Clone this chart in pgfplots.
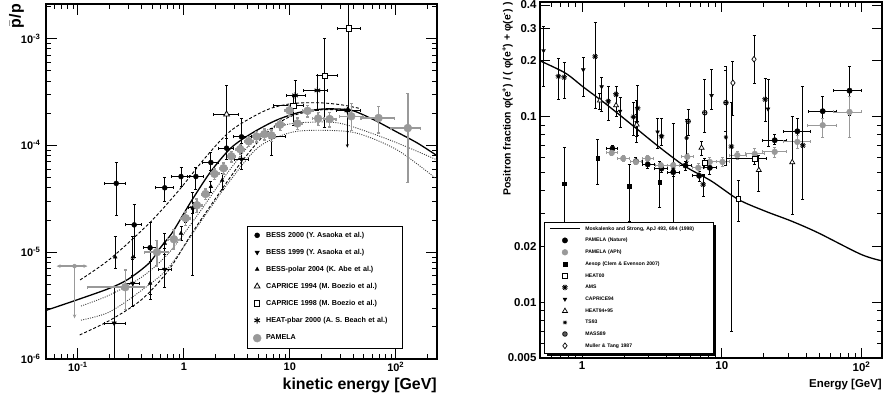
\documentclass[border=0pt]{standalone}
\usepackage{pgfplots}
\pgfplotsset{compat=1.18}
\usepackage{fontspec}
\setmainfont{Liberation Sans}
\usetikzlibrary{arrows.meta}

\definecolor{pgray}{gray}{0.6}

\pgfplotsset{
  eb/.style={/pgfplots/error bars/x dir=both, /pgfplots/error bars/x explicit,
    /pgfplots/error bars/y dir=both, /pgfplots/error bars/y explicit,
    /pgfplots/error bars/error bar style={line width=#1, solid},
    /pgfplots/error bars/error mark options={rotate=90, mark size=1.5bp, line width=#1, solid}},
  eby/.style={/pgfplots/error bars/y dir=both, /pgfplots/error bars/y explicit,
    /pgfplots/error bars/error bar style={line width=#1, solid},
    /pgfplots/error bars/error mark options={rotate=90, mark size=1.5bp, line width=#1, solid}},
  table/ebc/.style={x=E, y=v, x error minus=xm, x error plus=xp, y error minus=ym, y error plus=yp},
  table/eyc/.style={x=E, y=v, y error minus=ym, y error plus=yp},
}

\begin{document}
\begin{tikzpicture}
\path[use as bounding box] (0,0) rectangle (889bp,401bp);

% ---------------- left: antiproton/proton ratio
\begin{axis}[
  scale only axis, xmode=log, ymode=log,
  axis line style={line width=1.1bp},
  tick style={black, line width=0.8bp},
  major tick length=11bp, minor tick length=5.5bp,
  at={(46bp,42bp)}, anchor=south west, width=391bp, height=355bp,
  xmin=0.05, xmax=245, ymin=1e-6, ymax=2.1e-3,
  xtick={0.1,1,10,100}, xticklabels={10\textsuperscript{-1},1,10,10\textsuperscript{2}},
  minor xtick={0.06,0.07,0.08,0.09,0.2,0.3,0.4,0.5,0.6,0.7,0.8,0.9,2,3,4,5,6,7,8,9,20,30,40,50,60,70,80,90,200},
  ytick={1e-6,1e-5,1e-4,1e-3},
  yticklabels={10\textsuperscript{-6},10\textsuperscript{-5},10\textsuperscript{-4},10\textsuperscript{-3}},
  minor ytick={2e-6,3e-6,4e-6,5e-6,6e-6,7e-6,8e-6,9e-6,2e-5,3e-5,4e-5,5e-5,6e-5,7e-5,8e-5,9e-5,2e-4,3e-4,4e-4,5e-4,6e-4,7e-4,8e-4,9e-4,2e-3},
  ticklabel style={font=\bfseries\fontsize{11}{13}\selectfont},
  yticklabel style={xshift=-2bp},
  xlabel={kinetic energy [GeV]},
  xlabel style={font=\bfseries\fontsize{16}{18}\selectfont, at={(axis description cs:1,0)}, anchor=north east, inner sep=0pt, yshift=-19bp},
  ylabel={$\bar{\mbox{p}}$/p},
  ylabel style={font=\bfseries\fontsize{16}{18}\selectfont, at={(axis description cs:-0.056,1)}, anchor=south east, inner sep=0pt},
  legend style={at={(axis description cs:0.514,0.375)}, anchor=north west, draw=black, fill=white,
    font=\bfseries\fontsize{7.2}{8.5}\selectfont, inner xsep=6bp, inner ysep=6bp, row sep=10.5bp,
    nodes={inner ysep=0pt, inner xsep=2bp, text height=5bp, text depth=1.5bp, text width=128bp, align=left},
    /tikz/every odd column/.append style={column sep=3bp}},
  legend cell align=left,
  legend image code/.code={\draw[mark repeat=2,mark phase=2,#1] plot coordinates {(0bp,0bp) (16bp,0bp) (32bp,0bp)};},
]

% models
\addplot[forget plot, black, line width=1.3bp, smooth] coordinates {
 (0.05,2.85e-6) (0.1,3.6e-6) (0.2,4.6e-6) (0.3,5.6e-6) (0.47,7.9e-6) (0.6,1.1e-5) (0.77,1.5e-5)
 (1.0,2.3e-5) (1.2,3.1e-5) (1.8,5.7e-5) (2.8,9.5e-5) (4.4,1.3e-4) (7.3,1.7e-4) (12,2.02e-4)
 (20,2.18e-4) (30,2.18e-4) (40,2.1e-4) (63,1.72e-4) (104,1.32e-4) (160,1.05e-4) (245,8.0e-5)};
\addplot[forget plot, black, line width=0.9bp, smooth, dash pattern=on 3bp off 2bp] coordinates {
 (0.105,5.5e-6) (0.2,8.6e-6) (0.47,1.86e-5) (0.9,3.8e-5) (1.6,7.7e-5) (2.8,1.38e-4) (5.9,2.12e-4)
 (10.3,2.45e-4) (18.5,2.5e-4) (30,2.4e-4) (45,2.22e-4)};
\addplot[forget plot, black, line width=0.9bp, smooth, dash pattern=on 3bp off 2bp] coordinates {
 (0.104,1.68e-6) (0.2,2.3e-6) (0.4,3.6e-6) (0.72,6.8e-6) (1.19,1.5e-5) (2,3.2e-5) (3.5,7e-5)
 (6,1.3e-4) (10,1.85e-4) (20,2.15e-4) (40,2.1e-4)};
\addplot[forget plot, black!75, line width=0.9bp, smooth, dash pattern=on 1bp off 1.3bp] coordinates {
 (0.107,3.13e-6) (0.198,3.96e-6) (0.4,5.84e-6) (0.72,9.8e-6) (1.38,2.3e-5) (2.5,5.3e-5) (5.06,1.24e-4)
 (9,1.55e-4) (14.9,1.64e-4) (30.5,1.6e-4) (90,1.11e-4) (245,7.3e-5)};
\addplot[forget plot, black!75, line width=0.9bp, smooth, dash pattern=on 1bp off 1.3bp] coordinates {
 (0.107,2.31e-6) (0.198,2.75e-6) (0.4,4.4e-6) (0.72,7.2e-6) (1.48,2e-5) (2.7,4.6e-5) (5.06,9.6e-5)
 (10.3,1.32e-4) (21.5,1.38e-4) (44,1.29e-4) (104,9.0e-5) (245,4.8e-5)};

% BESS 2000
\addplot[black, only marks, mark=*, mark size=2.5bp, eb=0.9bp] table[ebc] {
E v xm xp ym yp
0.23 4.4e-5 0.052 0.049 2.2e-5 2.5e-5
0.34 1.8e-5 0.06 0.06 0.9e-5 1.0e-5
0.48 1.1e-5 0.06 0.07 0.7e-5 0.8e-5
0.66 4.0e-5 0.12 0.14 1.0e-5 1.0e-5
0.94 5.1e-5 0.17 0.19 1.0e-5 1.1e-5
1.3 5.1e-5 0.23 0.24 1.2e-5 1.1e-5
1.8 6.9e-5 0.3 0.3 1.1e-5 1.7e-5
2.53 9.4e-5 0.4 0.42 2.1e-5 2.2e-5
3.5 1.2e-4 0.55 0.85 3.0e-5 6.0e-5
};
% BESS 1999
\addplot[black, only marks, mark=triangle*, mark size=2.6bp, mark options={rotate=180}, eb=0.9bp] table[ebc] {
E v xm xp ym yp
0.22 2.17e-6 0.042 0.059 1.5e-6 2.5e-6
0.33 5.1e-6 0.05 0.05 2.0e-6 3.5e-6
0.66 6.9e-6 0.08 0.11 2.2e-6 4e-6
1.2 2.6e-5 0.1 0.1 2.0e-5 1.0e-5
3.5 7.4e-5 0.5 0.6 1.5e-5 3.0e-5
};
% BESS-polar 2004
\addplot[black, only marks, mark=triangle*, mark size=2.2bp, eby=0.9bp] table[eyc] {
E v ym yp
0.225 9.0e-6 2e-6 4.9e-6
0.33 9.0e-6 3e-6 5e-6
0.48 5.1e-6 1.5e-6 3e-6
0.66 1.21e-5 2.5e-6 3e-6
0.94 1.5e-5 2e-6 2.5e-6
1.04 2.1e-5 2e-6 3e-6
1.22 2.6e-5 3e-6 3e-6
1.8 4.1e-5 5e-6 5e-6
2.3 4.7e-5 8e-6 8e-6
};
% CAPRICE 1994
\addplot[black, only marks, mark=triangle*, mark size=3.3bp, mark options={fill=white, line width=0.8bp}, eb=0.9bp] table[ebc] {
E v xm xp ym yp
2.53 1.95e-4 0.62 0.75 1.0e-4 1.7e-4
};
% CAPRICE 1998
\addplot[black, only marks, mark=square*, mark size=2.6bp, mark options={fill=white, line width=0.8bp}, eb=0.9bp] table[ebc] {
E v xm xp ym yp
10.8 2.35e-4 3.8 2.6 8e-5 5e-5
21.4 4.48e-4 3.3 6.5 3.0e-4 5.5e-4
36 1.24e-3 8.1 10.9 1.03e-3 1.8e-3
};
% HEAT-pbar 2000
\addplot[black, only marks, mark=asterisk, mark size=3.2bp, mark options={line width=1bp}, eb=0.9bp] table[ebc] {
E v xm xp ym yp
6.75 1.2e-4 2.7 2.3 4e-5 2.5e-5
11.2 2.93e-4 1.9 2.8 6.8e-5 1.14e-4
18.2 3.26e-4 4.8 4.7 1.14e-4 1.24e-4
34.9 2.12e-4 7.6 12 0 0
};
% PAMELA
\addplot[pgray, only marks, mark=*, mark size=4bp, eb=1.4bp] table[ebc] {
E v xm xp ym yp
0.28 4.7e-6 0.157 0.14 1.8e-6 2.1e-6
0.557 1.0e-5 0.13 0.16 2.7e-6 2.9e-6
0.806 1.32e-5 0.1 0.12 2.5e-6 3e-6
1.04 2.08e-5 0.1 0.1 3e-6 3e-6
1.33 2.75e-5 0.13 0.15 4e-6 4e-6
1.6 3.5e-5 0.13 0.15 4e-6 4e-6
1.95 5.4e-5 0.17 0.2 6e-6 6e-6
2.37 6.1e-5 0.2 0.22 7e-6 7e-6
2.8 7.9e-5 0.22 0.26 9e-6 9e-6
3.4 9.2e-5 0.3 0.3 1e-5 1e-5
4.1 1.09e-4 0.35 0.4 1.2e-5 1.2e-5
4.85 1.21e-4 0.4 0.45 1.4e-5 1.4e-5
5.75 1.27e-4 0.45 0.5 1.5e-5 1.5e-5
6.7 1.24e-4 0.5 0.6 1.5e-5 1.5e-5
8.1 1.56e-4 0.7 0.8 1.8e-5 1.8e-5
9.9 2.12e-4 0.9 1.0 2.4e-5 2.4e-5
11.8 1.6e-4 1.0 1.2 2e-5 2e-5
14.7 2.1e-4 1.5 1.8 2.6e-5 2.6e-5
18.5 1.78e-4 2.2 2.5 2.5e-5 2.5e-5
23.8 1.76e-4 3 3.5 2.8e-5 2.8e-5
38 1.87e-4 8.4 11 5e-5 5.8e-5
68.8 1.8e-4 22 28 5e-5 5e-5
130 1.45e-4 40 41 1.0e-4 1.6e-4
};
% upper limits drawn as arrows
\addplot[forget plot, pgray, only marks, mark=none,
  /pgfplots/error bars/x dir=both, /pgfplots/error bars/x explicit,
  /pgfplots/error bars/y dir=minus, /pgfplots/error bars/y explicit,
  /pgfplots/error bars/error mark=none,
  /pgfplots/error bars/error bar style={line width=1.4bp, -{Stealth[length=4bp,width=3.5bp]}}] table[ebc] {
E v xm xp ym yp
0.093 7.4e-6 0.030 0.030 5e-6 0
};
\addplot[forget plot, black, only marks, mark=none,
  /pgfplots/error bars/y dir=minus, /pgfplots/error bars/y explicit,
  /pgfplots/error bars/error mark=none,
  /pgfplots/error bars/error bar style={line width=0.9bp, -{Stealth[length=3.5bp,width=3bp]}}] table[eyc] {
E v ym yp
34.9 2.12e-4 1.17e-4 0
};

\legend{BESS 2000 (Y. Asaoka et al.), BESS 1999 (Y. Asaoka et al.), BESS-polar 2004 (K. Abe et al.),
  CAPRICE 1994 (M. Boezio et al.), CAPRICE 1998 (M. Boezio et al.), HEAT-pbar 2000 (A. S. Beach et al.), PAMELA}
\end{axis}

% ---------------- right: positron fraction
\begin{axis}[
  scale only axis, xmode=log, ymode=log,
  axis line style={line width=1.1bp},
  tick style={black, line width=0.8bp},
  at={(540bp,43bp)}, anchor=south west, width=342bp, height=356bp,
  xmin=0.5, xmax=140, ymin=0.005, ymax=0.415,
  major tick length=10bp, minor tick length=5bp,
  xtick={1,10,100}, xticklabels={1,10,10\textsuperscript{2}},
  minor xtick={0.6,0.7,0.8,0.9,2,3,4,5,6,7,8,9,20,30,40,50,60,70,80,90},
  ytick={0.005,0.01,0.02,0.1,0.2,0.3,0.4},
  yticklabels={0.005,0.01,0.02,0.1,0.2,0.3,0.4},
  minor ytick={0.006,0.007,0.008,0.009,0.03,0.04,0.05,0.06,0.07,0.08,0.09},
  ticklabel style={font=\bfseries\fontsize{11.5}{13}\selectfont},
  xlabel={Energy [GeV]},
  xlabel style={font=\bfseries\fontsize{11.5}{14}\selectfont, at={(axis description cs:1,0)}, anchor=north east, inner sep=0pt, yshift=-21bp},
  ylabel={Positron fraction φ(e\textsuperscript{+}) / ( φ(e\textsuperscript{+}) + φ(e\textsuperscript{-}) )},
  ylabel style={font=\bfseries\fontsize{10.5}{12}\selectfont, at={(axis description cs:-0.079,1)}, anchor=south east, inner sep=0pt},
  legend style={name=rleg, at={(axis description cs:0.012,0.382)}, anchor=north west, draw=black, fill=white,
    font=\bfseries\fontsize{5.1}{6}\selectfont, inner xsep=5bp, inner ysep=4bp, row sep=6.3bp,
    nodes={inner ysep=0pt, inner xsep=2bp, text height=4bp, text depth=1.2bp, text width=121bp, align=left},
    /tikz/every odd column/.append style={column sep=2.7bp}},
  legend cell align=left,
  legend image code/.code={\draw[mark repeat=2,mark phase=2,#1] plot coordinates {(0bp,0bp) (15bp,0bp) (30bp,0bp)};},
]

\addplot[black, line width=1.3bp, smooth] coordinates {
 (0.5,0.2) (0.757,0.172) (1.02,0.1445) (1.46,0.118) (2.26,0.0906) (3.51,0.0692) (5.45,0.054)
 (8.44,0.0449) (13.1,0.0358) (20.3,0.031) (31.3,0.0274) (48.6,0.0237) (99,0.0181) (140,0.0167)};
% PAMELA (Nature)
\addplot[black, only marks, mark=*, mark size=2.7bp, eb=0.8bp] table[ebc] {
E v xm xp ym yp
1.65 0.0673 0.15 0.15 0.003 0.003
2.43 0.0575 0.2 0.25 0.0025 0.0025
2.95 0.0553 0.25 0.35 0.0025 0.0025
3.7 0.0525 0.4 0.4 0.0025 0.0025
4.49 0.0502 0.4 0.5 0.0025 0.0025
5.5 0.0545 0.5 0.6 0.003 0.003
6.88 0.048 0.7 0.6 0.003 0.003
8.2 0.053 0.8 0.9 0.004 0.004
23.9 0.0746 4.3 5.1 0.004 0.006
34.7 0.0834 6.9 8.3 0.011 0.015
52.7 0.107 11.4 13.3 0.017 0.021
82 0.138 19 17 0.036 0.048
};
% PAMELA (APh)
\addplot[pgray, only marks, mark=*, mark size=2.9bp, eb=0.9bp] table[ebc] {
E v xm xp ym yp
1.63 0.0638 0.13 0.15 0.002 0.002
1.97 0.0595 0.17 0.2 0.002 0.002
2.43 0.057 0.2 0.25 0.002 0.002
2.95 0.0595 0.25 0.3 0.002 0.002
3.66 0.0547 0.3 0.4 0.002 0.002
4.49 0.0547 0.4 0.5 0.002 0.002
5.66 0.0607 0.5 0.6 0.003 0.003
6.78 0.053 0.6 0.7 0.003 0.003
8.2 0.057 0.8 0.9 0.003 0.003
10.1 0.057 1.0 1.2 0.003 0.003
12.9 0.062 1.6 2.0 0.003 0.003
17.2 0.063 2.5 3.0 0.004 0.004
23.9 0.0646 4.3 5.1 0.004 0.004
34.7 0.0731 6.9 8.3 0.006 0.006
52.7 0.0899 11.4 13.3 0.013 0.008
82 0.106 19 17 0.029 0.022
};
% Aesop
\addplot[black, only marks, mark=square*, mark size=1.8bp, eby=0.8bp] table[eyc] {
E v ym yp
0.748 0.0435 0.019 0.0245
1.29 0.0595 0.0165 0.0155
2.17 0.0422 0.015 0.0128
3.6 0.0444 0.012 0.013
};
% HEAT00
\addplot[black, only marks, mark=square*, mark size=2.3bp, mark options={fill=white, line width=0.7bp}, eb=0.8bp] table[ebc] {
E v xm xp ym yp
7.56 0.0565 0.0 0.0 0.003 0.003
13.1 0.0361 0.0 0.0 0.009 0.009
17.2 0.0594 6.4 3.6 0.004 0.004
};
% AMS
\addplot[black, only marks, mark=10-pointed star, mark size=2.9bp, mark options={fill=white, line width=0.6bp}, eby=0.8bp] table[eyc] {
E v ym yp
0.677 0.165 0.041 0.04
0.744 0.163 0.037 0.033
1.24 0.211 0.1 0.11
1.54 0.121 0.026 0.024
1.75 0.132 0.025 0.013
2.33 0.0996 0.02 0.02
2.5 0.111 0.032 0.036
3.7 0.0784 0.008 0.02
7.35 0.0431 0.006 0.006
11.7 0.069 0.062 0.05
20.4 0.124 0.03 0.037
38 0.07 0.034 0.075
};
% CAPRICE94
\addplot[black, only marks, mark=triangle*, mark size=2.2bp, mark options={rotate=180}, eby=0.8bp] table[eyc] {
E v ym yp
0.53 0.227 0.082 0.079
1.02 0.179 0.05 0.03
1.38 0.145 0.038 0.018
1.87 0.107 0.02 0.02
2.46 0.093 0.02 0.03
3.47 0.0828 0.015 0.015
8.44 0.13 0.02 0.049
21.4 0.11 0.041 0.048
};
% HEAT94+95
\addplot[black, only marks, mark=triangle*, mark size=2.9bp, mark options={fill=white, line width=0.7bp}, eby=0.8bp] table[eyc] {
E v ym yp
1.34 0.122 0.012 0.012
1.75 0.115 0.015 0.015
2.46 0.0905 0.012 0.012
7.16 0.068 0.006 0.006
18.4 0.0515 0.012 0.01
31.9 0.0568 0.027 0.043
};
% TS93
\addplot[black, only marks, mark=10-pointed star, mark size=2.2bp, eby=0.8bp] table[eyc] {
E v ym yp
4.49 0.052 0.025 0.04
5.6 0.0767 0.02 0.02
10.7 0.0774 0.023 0.1
};
% MASS89
\addplot[black, only marks, mark=oplus, mark size=2.3bp, mark options={fill=white, line width=0.8bp}, eby=0.8bp] table[eyc] {
E v ym yp
5.74 0.0944 0.015 0.015
7.55 0.105 0.023 0.053
10.7 0.119 0.036 0.067
};
% Muller & Tang 1987
\addplot[black, only marks, mark=diamond*, mark size=2.9bp, mark options={fill=white, line width=0.7bp}, eby=0.8bp] table[eyc] {
E v ym yp
12.0 0.152 0.05 0.046
17.0 0.204 0.052 0.071
};

\legend{{Moskalenko and Strong, ApJ 493, 694 (1998)}, PAMELA (Nature), PAMELA (APh),
  Aesop (Clem \& Evenson 2007), HEAT00, AMS, CAPRICE94, HEAT94+95, TS93, MASS89, Muller \& Tang 1987}
\end{axis}
% shadow of the right legend box
\fill[black] ([yshift=-2.6bp]rleg.north east) rectangle ([xshift=2.6bp,yshift=-2.6bp]rleg.south east);
\fill[black] ([xshift=2.6bp]rleg.south west) rectangle ([xshift=2.6bp,yshift=-2.6bp]rleg.south east);
\end{tikzpicture}
\end{document}
